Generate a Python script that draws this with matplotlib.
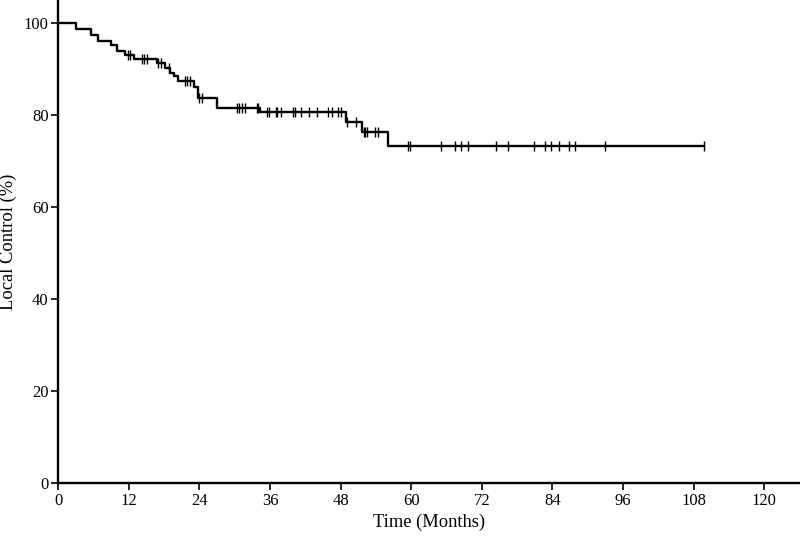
import numpy as np
import matplotlib
matplotlib.use("Agg")
import matplotlib.pyplot as plt

plt.rcParams['font.family'] = ['Liberation Serif', 'DejaVu Serif']

# Kaplan-Meier steps (months, % local control)
event_times = [0, 3.0, 5.6, 6.8, 9.0, 10.0, 11.3, 12.9, 16.8, 18.1, 19.0, 19.6,
               20.4, 23.1, 23.8, 27.0, 34.3, 48.9, 51.7, 56.0]
surv = [100, 98.6, 97.4, 96.1, 95.2, 93.9, 93.0, 92.1, 91.3, 90.3, 89.2, 88.4,
        87.4, 86.0, 83.6, 81.6, 80.6, 78.4, 76.2, 73.2]
last_followup = 109.8

# censored observations
censor_times = [11.9, 12.2, 14.3, 14.6, 15.0, 17.0, 17.5, 18.9, 21.5, 21.9, 22.4,
                23.9, 24.4, 30.3, 30.8, 31.3, 31.8, 33.7, 33.9, 35.4, 35.8, 37.0,
                37.2, 37.9, 39.9, 40.3, 41.2, 42.6, 43.9, 45.9, 46.5, 47.5, 48.0,
                49.0, 50.6, 51.9, 52.2, 52.4, 53.9, 54.3, 59.4, 59.8, 65.1, 67.5,
                68.4, 69.6, 74.4, 76.4, 80.8, 82.8, 83.7, 85.2, 86.8, 87.8, 93.0,
                109.8]

x_ticks = [0, 12, 24, 36, 48, 60, 72, 84, 96, 108, 120]
y_ticks = [0, 20, 40, 60, 80, 100]

fig = plt.figure(figsize=(8, 5.38), dpi=100)
ax = fig.add_axes([0.0729, 0.1022, 0.9271, 0.8978])

t = event_times + [last_followup]
s = surv + [surv[-1]]
ax.step(t, s, where='post', color='black', lw=1.7)

# level of the curve at each censor time
idx = np.searchsorted(event_times, censor_times, side='right') - 1
cens_y = np.array(surv)[idx]
ax.plot(censor_times, cens_y, linestyle='none', marker='|', color='black',
        markersize=6.5, markeredgewidth=1.0)

ax.set_xlim(0, 126.1)
ax.set_ylim(0, 105)
ax.set_xticks(x_ticks)
ax.set_yticks(y_ticks)
ax.spines['top'].set_visible(False)
ax.spines['right'].set_visible(False)
for sp in ['left', 'bottom']:
    ax.spines[sp].set_linewidth(1.7)
ax.tick_params(direction='out', length=5, width=1.2, labelsize=12, pad=2)

ax.set_xlabel("Time (Months)", fontsize=13.3)
ax.xaxis.set_label_coords(0.5, -0.064)
ax.set_ylabel("Local Control (%)", fontsize=13.3)
ax.yaxis.set_label_coords(-0.056, 0.5)

fig.savefig("out.png", dpi=100)
